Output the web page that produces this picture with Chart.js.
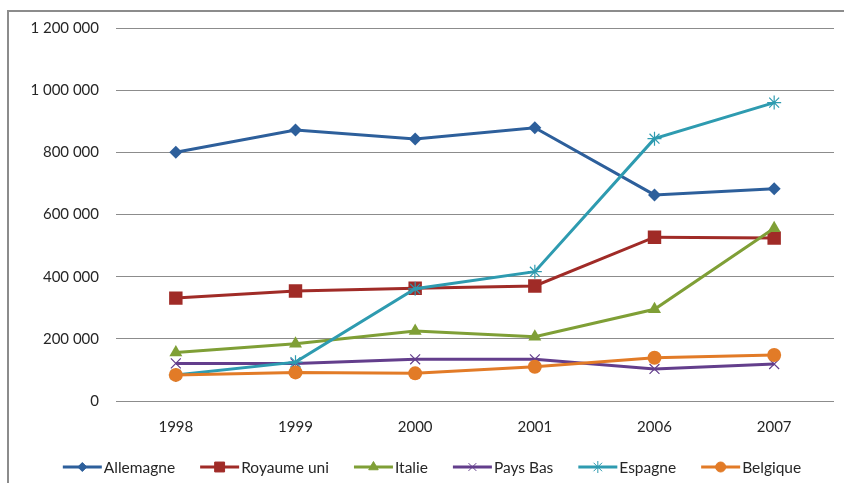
<!DOCTYPE html>
<html>
<head>
<meta charset="utf-8">
<script src="https://cdn.jsdelivr.net/npm/chart.js@4.4.1/dist/chart.umd.min.js"></script>
<style>
  html, body { margin: 0; padding: 0; background: #fff; }
  #wrap { width: 844px; height: 483px; position: relative; }
</style>
</head>
<body>
<div id="wrap"><canvas id="chart"></canvas></div>
<script>
const years = ['1998', '1999', '2000', '2001', '2006', '2007'];
const seriesNames = ['Allemagne', 'Royaume uni', 'Italie', 'Pays Bas', 'Espagne', 'Belgique'];
const allemagne = [800000, 872000, 843000, 879000, 663000, 683000];
const royaumeUni = [331000, 354000, 363000, 370000, 527000, 524000];
const italie = [156000, 184000, 225000, 207000, 295000, 556000];
const paysBas = [121000, 121000, 134000, 134000, 103000, 119000];
const espagne = [84000, 125000, 361000, 416000, 844000, 960000];
const belgique = [84000, 92000, 89000, 110000, 139000, 148000];
const seriesValues = [allemagne, royaumeUni, italie, paysBas, espagne, belgique];
const seriesColors = ['#2D5F9B', '#A02B27', '#7F9F36', '#633E8C', '#2E9BB0', '#E27B27'];
const markerStyles = ['rectRot', 'rect', 'triangle', 'crossRot', 'star', 'circle'];
const markerSizes = [6.5, 9.5, 7.5, 7, 7, 7];
const legendSizes = [4.5, 7, 5.5, 5.5, 6, 5];

const FONT = 'Lato, "Open Sans", sans-serif';

function fmt(v) {
    return String(v).replace(/\B(?=(\d{3})+(?!\d))/g, ' ');
}

const datasets = seriesNames.map((name, i) => {
    const stroked = markerStyles[i] === 'crossRot' || markerStyles[i] === 'star';
    return {
        label: name,
        data: seriesValues[i],
        borderColor: seriesColors[i],
        backgroundColor: seriesColors[i],
        pointStyle: markerStyles[i],
        pointRadius: markerSizes[i],
        pointHoverRadius: markerSizes[i],
        pointBorderWidth: stroked ? 1.2 : 0,
        pointBorderColor: seriesColors[i],
        borderWidth: 3,
        tension: 0,
        order: seriesNames.length - i
    };
});

// border around the picture
const framePlugin = {
    id: 'frame',
    beforeDraw(chart) {
        const ctx = chart.ctx;
        ctx.save();
        ctx.fillStyle = '#fff';
        ctx.fillRect(0, 0, chart.width, chart.height);
        ctx.strokeStyle = '#8c8c8c';
        ctx.lineWidth = 2;
        ctx.strokeRect(8, 11, chart.width + 10, chart.height + 10);
        ctx.restore();
    }
};

// excel style legend: line + marker + text
const lineLegend = {
    id: 'lineLegend',
    afterDraw(chart) {
        const ctx = chart.ctx;
        const y = 467;
        const lineLen = 39, gap = 2, spacing = 25;
        ctx.save();
        ctx.font = '15.5px ' + FONT;
        const widths = seriesNames.map(n => ctx.measureText(n).width);
        const total = widths.reduce((a, w) => a + lineLen + gap + w, 0) + spacing * (seriesNames.length - 1);
        let x = 432 - total / 2;
        seriesNames.forEach((name, i) => {
            ctx.strokeStyle = seriesColors[i];
            ctx.lineWidth = 3;
            ctx.beginPath();
            ctx.moveTo(x, y);
            ctx.lineTo(x + lineLen, y);
            ctx.stroke();
            ctx.fillStyle = seriesColors[i];
            ctx.lineWidth = 1;
            Chart.helpers.drawPoint(ctx, {
                pointStyle: markerStyles[i],
                radius: legendSizes[i],
                rotation: 0,
                borderWidth: 1
            }, x + lineLen / 2, y);
            ctx.fillStyle = '#262626';
            ctx.textBaseline = 'middle';
            ctx.textAlign = 'left';
            ctx.fillText(name, x + lineLen + gap, y + 1);
            x += lineLen + gap + widths[i] + spacing;
        });
        ctx.restore();
    }
};

new Chart(document.getElementById('chart'), {
    type: 'line',
    data: { labels: years, datasets: datasets },
    plugins: [framePlugin, lineLegend],
    options: {
        responsive: true,
        maintainAspectRatio: false,
        animation: false,
        layout: { padding: { top: 28, right: 10, left: 0, bottom: 0 } },
        plugins: {
            legend: { display: false },
            tooltip: { enabled: false }
        },
        scales: {
            x: {
                offset: true,
                grid: { display: false, drawTicks: false },
                border: { display: false },
                ticks: {
                    padding: 17,
                    color: '#262626',
                    font: { family: FONT, size: 15 }
                },
                afterFit(scale) { scale.height = 82; }
            },
            y: {
                min: 0,
                max: 1200000,
                grid: { color: '#8c8c8c', lineWidth: 1, drawTicks: false },
                border: { display: false },
                ticks: {
                    stepSize: 200000,
                    padding: 17,
                    color: '#262626',
                    font: { family: FONT, size: 15 },
                    callback: v => fmt(v)
                },
                afterFit(scale) { scale.width = 116; }
            }
        }
    }
});
</script>
</body>
</html>
